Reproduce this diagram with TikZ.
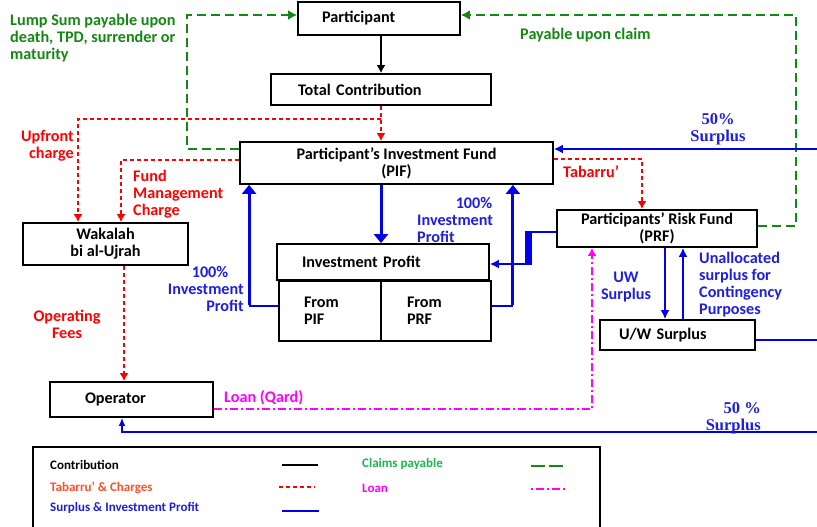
\documentclass[tikz,border=0pt]{standalone}
\usepackage{fontspec}
\setmainfont{Carlito}
\newfontfamily\serifb{Liberation Serif}
\usetikzlibrary{arrows.meta,calc}
\definecolor{cgreen}{RGB}{20,135,20}
\definecolor{clgreen}{RGB}{30,180,80}
\definecolor{cred}{RGB}{255,0,0}
\definecolor{corange}{RGB}{255,80,40}
\definecolor{cblue}{RGB}{0,0,235}
\definecolor{ctblue}{RGB}{30,30,225}
\definecolor{cmag}{RGB}{255,0,255}
\tikzset{
  box/.style={draw, line width=1.8pt, inner ysep=0pt, fill=white},
  redflow/.style={cred, line width=1.6pt, dash pattern=on 4pt off 3pt, -{Latex[length=8pt,width=9pt]}},
  greenflow/.style={cgreen, line width=1.8pt, dash pattern=on 9pt off 5pt, -{Latex[length=9pt,width=10pt]}},
  blueflow/.style={cblue, line width=1.5pt},
  bluethick/.style={cblue, line width=3pt, -{Triangle[length=9pt,width=14pt]}},
  magflow/.style={cmag, line width=1.6pt, dash pattern=on 8pt off 3pt on 2pt off 3pt, -{Latex[length=8pt,width=9pt]}},
  lbl/.style={inner sep=0pt},
}
\begin{document}
\begin{tikzpicture}[x=1pt, y=-1pt, font=\bfseries\fontsize{16.2}{17}\selectfont]
\useasboundingbox (0,0) rectangle (817,527);

% boxes
\node[box, minimum width=162pt, minimum height=33pt, text width=114pt, inner xsep=24pt, align=left] (participant) at (379,18.5) {Participant};
\node[box, minimum width=220pt, minimum height=31pt, text width=166pt, inner xsep=27pt, align=left] (totalc) at (381,89.5) {Total Contribution};
\node[box, minimum width=313pt, minimum height=42pt, align=center, inner xsep=0pt] (pif) at (396.5,163) {Participant’s Investment Fund\\(PIF)};
\node[box, minimum width=165pt, minimum height=42pt, align=center, inner xsep=0pt] (wakalah) at (105.5,244) {Wakalah\\bi al-Ujrah};
\node[box, minimum width=163pt, minimum height=35pt, text width=93pt, inner xsep=35pt, align=left] (operator) at (131.5,399.5) {Operator};
\node[box, minimum width=200pt, minimum height=37pt, align=center, inner xsep=0pt] (prf) at (657,228.5) {Participants’ Risk Fund\\(PRF)};
\node[box, minimum width=212pt, minimum height=36pt, text width=162pt, inner xsep=25pt, align=left] (ip) at (383,262) {Investment Profit};
\node[box, minimum width=102pt, minimum height=60pt, text width=52pt, inner xsep=25pt, align=left] (frompif) at (330,311) {From\\PIF};
\node[box, minimum width=110pt, minimum height=60pt, text width=58pt, inner xsep=26pt, align=left] (fromprf) at (436,311) {From\\PRF};
\node[box, minimum width=155pt, minimum height=30pt, text width=117pt, inner xsep=19pt, align=left] (uw) at (677.5,335) {U/W Surplus};

% black contribution
\draw[line width=1.5pt, -{Latex[length=8pt,width=9pt]}] (totalc.north |- participant.south) -- (totalc.north);

% red flows
\draw[redflow] (totalc.south) -- (totalc.south |- pif.north);
\coordinate (upf) at (381,119);
\draw[redflow] (upf) -| ([xshift=-27.5pt]wakalah.north);
\draw[redflow] ([yshift=3pt]pif.west) -| ([xshift=15.5pt]wakalah.north);
\draw[redflow] ([xshift=18.5pt]wakalah.south) -- ([xshift=-7.5pt]operator.north);
\draw[redflow] ([yshift=4pt]pif.east) -| ([xshift=-15pt]prf.north);

% green flows
\draw[greenflow] ([yshift=14pt]pif.west) -- ++(-52,0) |- ([yshift=3.5pt]participant.west);
\draw[greenflow] ([yshift=2.5pt]prf.east) -- ++(38,0) |- ([yshift=3.5pt]participant.east);

% blue flows
\coordinate (s50a) at (817,149);
\draw[blueflow, -{Latex[length=9pt,width=9pt]}] (s50a) -- (s50a -| pif.east);
\draw[bluethick] ([xshift=-2pt]ip.north |- pif.south) -- ([xshift=-2pt]ip.north);
\draw[blueflow] ([yshift=5pt]frompif.west) -- ++(-29,0) coordinate (c1);
\draw[bluethick] ([yshift=0.75pt]c1) -- (c1 |- pif.south);
\draw[blueflow] ([yshift=5pt]fromprf.east) -- ++(21,0) coordinate (c2);
\draw[bluethick] ([yshift=0.75pt]c2) -- (c2 |- pif.south);
\draw[blueflow] ([yshift=-3.5pt]prf.west) -- ++(-24,0) coordinate (c3);
\fill[cblue] ([yshift=1pt]c3) rectangle ++(-7,34);
\coordinate (c4) at ([xshift=-3pt,yshift=-32pt]c3);
\draw[blueflow, -{Latex[length=9pt,width=9pt]}] (c4) -- (c4 -| ip.east);
\draw[cblue, line width=2.2pt, -{Latex[length=9pt,width=9pt]}] ([xshift=8pt]prf.south) -- ([xshift=8pt]prf.south |- uw.north);
\draw[cblue, line width=2.2pt, -{Latex[length=9pt,width=9pt]}] ([xshift=26pt]prf.south |- uw.north) -- ([xshift=26pt]prf.south);
\coordinate (uwr) at (817,340);
\draw[blueflow] ([yshift=-5pt]uw.east) -- (uwr);
\coordinate (s50b) at (817,432);
\draw[blueflow, -{Latex[length=8pt,width=7pt]}] (s50b) -| ([xshift=-9.5pt]operator.south);

% magenta loan
\draw[magflow] ([yshift=-9.5pt]operator.east) -| ([xshift=-65pt]prf.south);

% labels
\node[lbl, anchor=west, align=left, text=cgreen] (lumpsum) at (10,38) {Lump Sum payable upon\\death, TPD, surrender or\\maturity};
\node[lbl, anchor=west, text=cgreen] (payclaim) at (520,35) {Payable upon claim};
\node[lbl, anchor=east, align=right, text=cred] (upfront) at (74,146) {Upfront\\charge};
\node[lbl, anchor=west, align=left, text=cred] (fmc) at (133,194) {Fund\\Management\\Charge};
\node[lbl, align=center, text=cred] (opfees) at (67,324) {Operating\\Fees};
\node[lbl, anchor=west, text=cred] (tabarru) at (563,172) {Tabarru’};
\node[lbl, anchor=east, align=right, text=ctblue] (ipl) at (244,289) {\makebox[52pt][l]{100\%}\\Investment\\Profit};
\node[lbl, anchor=west, align=left, text=ctblue] (ipr) at (417,220) {\makebox[75pt][r]{100\%}\\Investment\\Profit};
\node[lbl, align=center, text=ctblue] (uwsl) at (626,287) {UW\\Surplus};
\node[lbl, anchor=west, align=left, text=ctblue] (unalloc) at (699,285) {Unallocated\\surplus for\\Contingency\\Purposes};
\node[lbl, align=center, text=ctblue, font=\serifb\bfseries\fontsize{16.5}{17}\selectfont] (s50al) at (718,129) {50\%\\Surplus};
\node[lbl, anchor=east, align=right, text=ctblue, font=\serifb\bfseries\fontsize{16.5}{17}\selectfont] (s50bl) at (761,418) {50 \%\hspace{1pt}\\Surplus};
\node[lbl, anchor=west, text=cmag] (loanl) at (224,398) {Loan (Qard)};

% legend
\draw[line width=1.8pt] (33,531) -- (33,447) -- (600,447) -- (600,531);
\begin{scope}[font=\bfseries\fontsize{13}{14}\selectfont]
\node[lbl, anchor=west] (lg1) at (50,465) {Contribution};
\node[lbl, anchor=west, text=corange] (lg2) at (50,488) {Tabarru’ \& Charges};
\node[lbl, anchor=west, text=ctblue] (lg3) at (50,508) {Surplus \& Investment Profit};
\node[lbl, anchor=west, text=clgreen] (lg4) at (362,464) {Claims payable};
\node[lbl, anchor=west, text=cmag] (lg5) at (362,488) {Loan};
\end{scope}
\draw[line width=1.5pt] (282,465) -- (318,465);
\draw[cred, line width=1.6pt, dash pattern=on 4pt off 3pt] (279,487) -- (315,487);
\draw[cblue, line width=1.5pt] (282,511) -- (319,511);
\draw[cgreen, line width=2.2pt, dash pattern=on 14pt off 4pt] (531,466) -- (563,466);
\draw[cmag, line width=1.6pt, dash pattern=on 2pt off 3pt on 8pt off 3pt] (531,489) -- (565,489);
\end{tikzpicture}
\end{document}
